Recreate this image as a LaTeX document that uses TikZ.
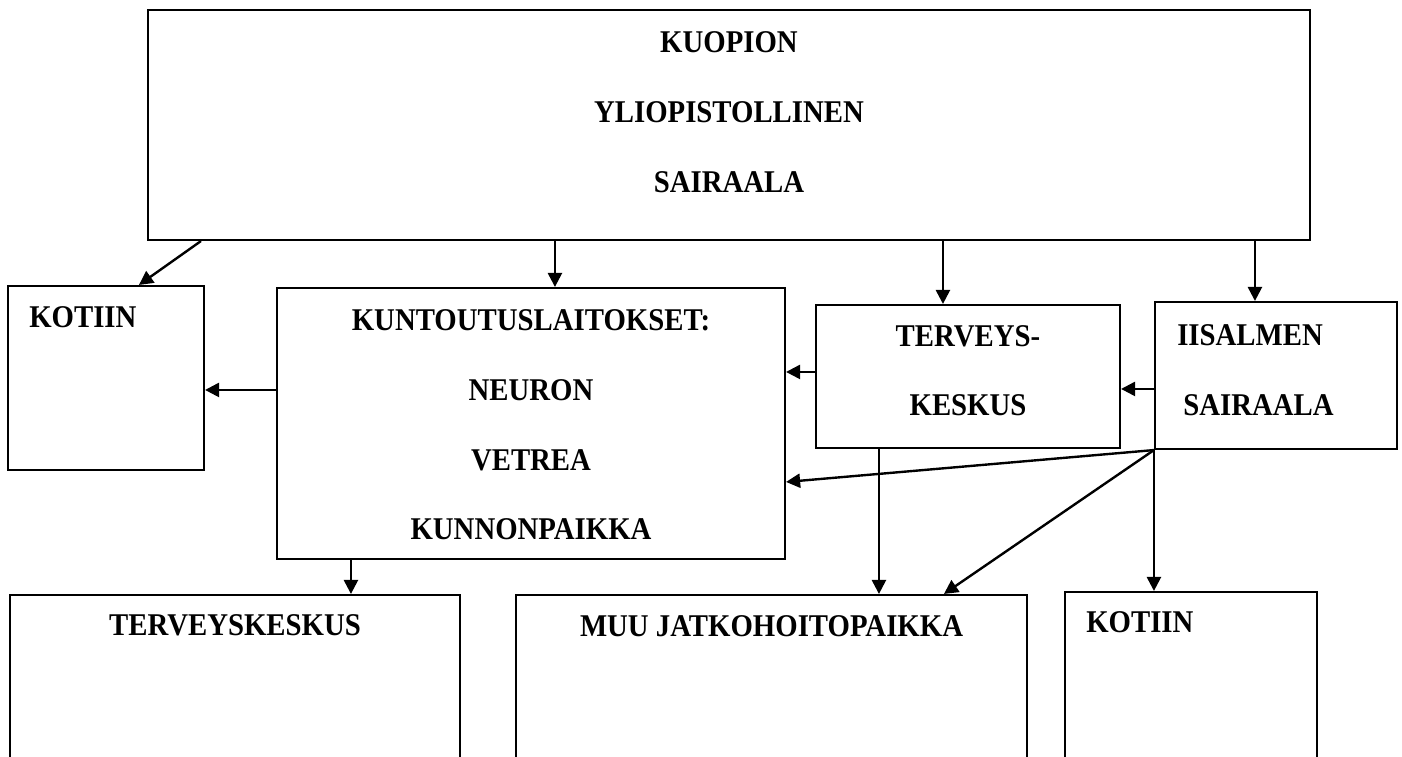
\documentclass[tikz,border=0pt]{standalone}
\usepackage{fontspec}
\setmainfont[FakeStretch=0.91]{Liberation Serif}
\usetikzlibrary{arrows.meta}
\begin{document}
\begin{tikzpicture}[box node/.style={draw,line width=1.5pt,inner sep=0pt},
    text node/.style={anchor=base,inner sep=0pt,font=\bfseries\fontsize{22.5}{26}\selectfont},
    arr/.style={line width=1.7pt,-{Triangle[length=10pt,width=10pt]}}]
                \clip (0,0) rectangle (35.05,-18.9);
                \node[box node,minimum width=29.05cm,minimum height=5.75cm] at (18.225,-3.125) (kys) {};
                \node[box node,minimum width=4.9cm,minimum height=4.6cm] at (2.65,-9.45) (koti1) {};
                \node[box node,minimum width=12.7cm,minimum height=6.775cm] at (13.275,-10.5875) (kunt) {};
                \node[box node,minimum width=7.6cm,minimum height=3.575cm] at (24.2,-9.4125) (terv) {};
                \node[box node,minimum width=6.05cm,minimum height=3.675cm] at (31.9,-9.3875) (iis) {};
                \node[box node,minimum width=11.25cm,minimum height=5.125cm] at (5.875,-17.4375) (tk) {};
                \node[box node,minimum width=12.775cm,minimum height=5.125cm] at (19.2875,-17.4375) (muu) {};
                \node[box node,minimum width=6.3cm,minimum height=5.2cm] at (29.775,-17.4) (koti2) {};

                \node[text node] at (18.225,-1.3) (kys-1) {KUOPION};
                \node[text node] at (18.225,-3.05) (kys-2) {YLIOPISTOLLINEN};
                \node[text node] at (18.225,-4.8) (kys-3) {SAIRAALA};
                \node[text node,anchor=base west] at (0.725,-8.175) (koti1-1) {KOTIIN};
                \node[text node] at (13.275,-8.25) (kunt-1) {KUNTOUTUSLAITOKSET:};
                \node[text node] at (13.275,-10) (kunt-2) {NEURON};
                \node[text node] at (13.275,-11.75) (kunt-3) {VETREA};
                \node[text node] at (13.275,-13.475) (kunt-4) {KUNNONPAIKKA};
                \node[text node] at (24.2,-8.65) (terv-1) {TERVEYS-};
                \node[text node] at (24.2,-10.375) (terv-2) {KESKUS};
                \node[text node,anchor=base west] at (29.425,-8.625) (iis-1) {IISALMEN};
                \node[text node,anchor=base west] at (29.575,-10.375) (iis-2) {SAIRAALA};
                \node[text node] at (5.875,-15.875) (tk-1) {TERVEYSKESKUS};
                \node[text node] at (19.2875,-15.9) (muu-1) {MUU JATKOHOITOPAIKKA};
                \node[text node,anchor=base west] at (27.15,-15.8) (koti2-1) {KOTIIN};

                % arrow ends
                \coordinate (a1) at ([xshift=1.35cm]kys.south west);
                \coordinate (b1) at ([xshift=3.3cm]koti1.north west);
                \coordinate (a2) at ([xshift=6.975cm]kunt.north west);
                \coordinate (a3) at ([xshift=3.2cm]terv.north west);
                \coordinate (a4) at ([xshift=2.525cm]iis.north west);
                \coordinate (a5) at ([yshift=-2.575cm]kunt.north west);
                \coordinate (a6) at ([yshift=-1.7cm]terv.north west);
                \coordinate (a7) at ([yshift=-2.2cm]iis.north west);
                \coordinate (b8) at ([yshift=-4.875cm]kunt.north east);
                \coordinate (b9) at ([xshift=10.725cm]muu.north west);
                \coordinate (a11) at ([xshift=1.6cm]terv.south west);
                \coordinate (a12) at ([xshift=1.875cm]kunt.south west);

                \draw[arr] (a1) -- (b1);
                \draw[arr] (kys.south -| a2) -- (a2);
                \draw[arr] (kys.south -| a3) -- (a3);
                \draw[arr] (kys.south -| a4) -- (a4);
                \draw[arr] (a5) -- (a5 -| koti1.east);
                \draw[arr] (a6) -- (a6 -| kunt.east);
                \draw[arr] (a7) -- (a7 -| terv.east);
                \draw[arr] (iis.south west) -- (b8);
                \draw[arr] (iis.south west) -- (b9);
                \draw[arr] (iis.south west) -- (iis.south west |- koti2.north);
                \draw[arr] (a11) -- (a11 |- muu.north);
                \draw[arr] (a12) -- (a12 |- tk.north);
            \end{tikzpicture}
\end{document}
